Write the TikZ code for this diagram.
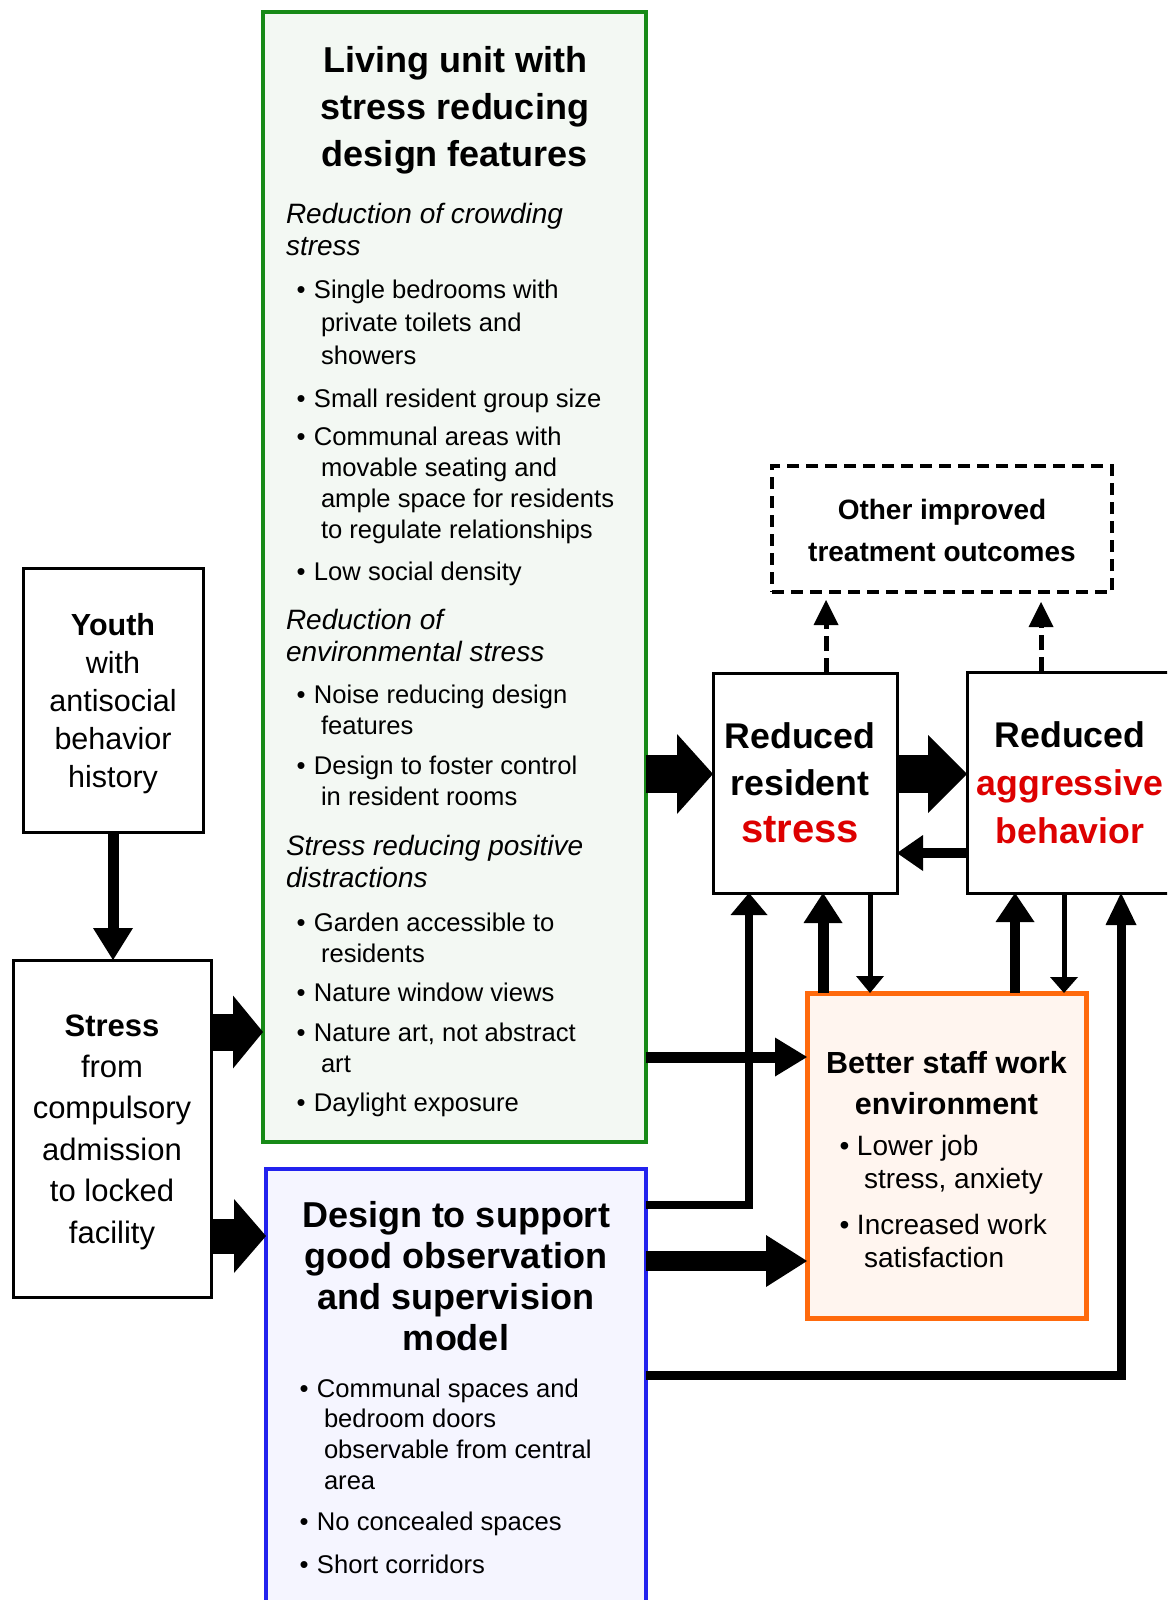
\documentclass[tikz,border=0pt]{standalone}
\usepackage{fontspec}
\setmainfont{Liberation Sans}
\usetikzlibrary{arrows.meta}
\definecolor{unitline}{HTML}{178A17}
\definecolor{unitbg}{HTML}{F3F8F3}
\definecolor{obsline}{HTML}{2222EE}
\definecolor{obsbg}{HTML}{F5F5FF}
\definecolor{staffline}{HTML}{FF6A0D}
\definecolor{staffbg}{HTML}{FFF5EF}
\definecolor{hot}{HTML}{DD0000}
\newcommand{\listfont}{\fontsize{25.6}{31}\selectfont}
\newcommand{\subhead}[1]{{\fontsize{28}{32}\selectfont\itshape #1\par}}
\newcommand{\bul}[1]{{\listfont\hangindent=35pt\hangafter=1\hspace*{10.5pt}\makebox[17.5pt][l]{\textbullet}#1\par}}
\tikzset{
  box/.style={draw=black, line width=3pt, fill=white, inner sep=0pt, outer sep=0pt, anchor=north west},
  unitbox/.style={box, draw=unitline, fill=unitbg, line width=4pt},
  obsbox/.style={box, draw=obsline, fill=obsbg, line width=4.5pt},
  staffbox/.style={box, draw=staffline, fill=staffbg, line width=5pt},
  dashbox/.style={box, line width=4pt, dash pattern=on 12pt off 7pt},
  txt/.style={inner sep=0pt, outer sep=0pt, anchor=base},
  fat/.style n args={3}{draw=black, line width=#1, -{Triangle[width=#2, length=#3, line width=0pt]}},
  dashfat/.style n args={3}{fat={#1}{#2}{#3}, dash pattern=on 15pt off 7pt},
}

\begin{document}
\begin{tikzpicture}[x=1pt, y=-1pt]
  \useasboundingbox (0,0) rectangle (1167,1600);
  \fill[white] (0,0) rectangle (1167,1600);
  \clip (0,0) rectangle (1167,1600);

  % rows and columns of the connectors
  \coordinate (r1) at (0,1032);
  \coordinate (r2) at (0,1236);
  \coordinate (r3) at (0,774);
  \coordinate (r4) at (0,853);
  \coordinate (r5) at (0,1057);
  \coordinate (r6) at (0,1261);
  \coordinate (r7) at (0,1205);
  \coordinate (r8) at (0,1375);
  \coordinate (c1) at (749,0);
  \coordinate (c2) at (823,0);
  \coordinate (c3) at (870,0);
  \coordinate (c4) at (1015,0);
  \coordinate (c5) at (1064,0);
  \coordinate (c6) at (1121,0);
  \coordinate (c7) at (826,0);
  \coordinate (c8) at (1041,0);

  % boxes
  \node[unitbox, minimum width=383pt, minimum height=1130pt] (unit) at (263,12) {};
  \node[obsbox, minimum width=380pt, minimum height=471pt] (design) at (266,1169) {};
  \node[box, minimum width=180pt, minimum height=264pt] (youth) at (23,568) {};
  \node[box, minimum width=198pt, minimum height=337pt] (stress) at (13,960) {};
  \node[box, minimum width=184pt, minimum height=220pt] (resident) at (713,673) {};
  \node[box, minimum width=240pt, minimum height=221pt] (aggressive) at (967,672) {};
  \node[dashbox, minimum width=340pt, minimum height=126pt] (other) at (772,466) {};
  \node[staffbox, minimum width=279pt, minimum height=325pt] (staff) at (807,993) {};

  % texts
  \node[txt] (youth-t) at (113,635.5) {\parbox[t]{175pt}{\centering\fontsize{30.5}{38}\selectfont
    \textbf{Youth}\\with\\antisocial\\behavior\\history}};
  \node[txt] (stress-t) at (112,1036) {\parbox[t]{190pt}{\centering\fontsize{31}{41.4}\selectfont
    \textbf{Stress}\\from\\compulsory\\admission\\to locked\\facility}};
  \node[txt] (unit-title) at (455,73) {\parbox[t]{370pt}{\centering\fontsize{36}{47}\selectfont\bfseries
    Living unit with\\stress reducing\\design features}};
  \node[txt, anchor=base west] (unit-list) at (286,223) {\parbox[t]{350pt}{%
    \subhead{Reduction of crowding\\stress}\vspace{10pt}
    {\def\listfont{\fontsize{25.6}{33}\selectfont}\bul{Single bedrooms with\\private toilets and\\showers}}\vspace{12pt}
    \bul{Small resident group size}\vspace{7pt}
    \bul{Communal areas with\\movable seating and\\ample space for residents\\to regulate relationships}\vspace{11pt}
    \bul{Low social density}\vspace{17pt}
    \subhead{Reduction of\\environmental stress}\vspace{11pt}
    \bul{Noise reducing design\\features}\vspace{9pt}
    \bul{Design to foster control\\in resident rooms}\vspace{18pt}
    \subhead{Stress reducing positive\\distractions}\vspace{13pt}
    \bul{Garden accessible to\\residents}\vspace{8pt}
    \bul{Nature window views}\vspace{9pt}
    \bul{Nature art, not abstract\\art}\vspace{8pt}
    \bul{Daylight exposure}}};
  \node[txt] (design-title) at (456,1227) {\parbox[t]{370pt}{\centering\fontsize{36}{41.3}\selectfont\bfseries
    Design to support\\good observation\\and supervision\\model}};
  \node[txt, anchor=base west] (design-list) at (289,1397) {\parbox[t]{350pt}{%
    \def\listfont{\fontsize{25.6}{30.7}\selectfont}%
    \bul{Communal spaces and\\bedroom doors\\observable from central\\area}\vspace{10.3pt}
    \bul{No concealed spaces}\vspace{12.3pt}
    \bul{Short corridors}}};
  \node[txt] (resident-t) at (800,748) {\parbox[t]{180pt}{\centering\fontsize{35.7}{47}\selectfont\bfseries
    Reduced\\resident\\{\fontsize{40}{47}\selectfont\textcolor{hot}{stress}}}};
  \node[txt] (aggressive-t) at (1070,747) {\parbox[t]{200pt}{\centering\fontsize{35.7}{48}\selectfont\bfseries
    Reduced\\\textcolor{hot}{aggressive}\\\textcolor{hot}{behavior}}};
  \node[txt] (other-t) at (942,519) {\parbox[t]{330pt}{\centering\fontsize{28}{42}\selectfont\bfseries
    Other improved\\treatment outcomes}};
  \node[txt] (staff-title) at (946.5,1073) {\parbox[t]{270pt}{\centering\fontsize{30.5}{41}\selectfont\bfseries
    Better staff work\\environment}};
  \node[txt, anchor=base west] (staff-list) at (829,1155) {\parbox[t]{250pt}{%
    \def\listfont{\fontsize{28}{33}\selectfont}%
    \bul{Lower job\\stress, anxiety}\vspace{13pt}
    \bul{Increased work\\satisfaction}}};

  % connectors
  \draw[fat={11pt}{40pt}{32pt}] (youth.south) -- (youth.south |- stress.north);
  \draw[fat={37pt}{73pt}{30pt}] (stress.east |- r1) -- (unit.west |- r1);
  \draw[fat={35pt}{74pt}{32pt}] (stress.east |- r2) -- (design.west |- r2);
  \draw[fat={38pt}{80pt}{36pt}] (unit.east |- r3) -- (resident.west |- r3);
  \draw[fat={38pt}{78pt}{39pt}] (resident.east |- r3) -- (aggressive.west |- r3);
  \draw[fat={10pt}{36pt}{26pt}] (aggressive.west |- r4) -- (resident.east |- r4);
  \draw[fat={11pt}{39pt}{32pt}] (unit.east |- r5) -- (staff.west |- r5);
  \draw[fat={20pt}{52pt}{41pt}] (design.east |- r6) -- (staff.west |- r6);
  \draw[fat={8pt}{37pt}{22pt}] (design.east |- r7) -| (c1 |- resident.south);
  \draw[fat={11pt}{39pt}{30pt}] (c2 |- staff.north) -- (c2 |- resident.south);
  \draw[fat={5pt}{28pt}{17pt}] (c3 |- resident.south) -- (c3 |- staff.north);
  \draw[fat={10.5pt}{39pt}{29pt}] (c4 |- staff.north) -- (c4 |- aggressive.south);
  \draw[fat={5pt}{28pt}{16pt}] (c5 |- aggressive.south) -- (c5 |- staff.north);
  \draw[fat={9pt}{31pt}{32pt}] (design.east |- r8) -| (c6 |- aggressive.south);
  \draw[dashfat={5pt}{25pt}{25pt}, shorten >=8pt] (c7 |- resident.north) -- (c7 |- other.south);
  \draw[dashfat={5pt}{25pt}{25pt}, shorten >=10pt] (c8 |- aggressive.north) -- (c8 |- other.south);
\end{tikzpicture}
\end{document}
